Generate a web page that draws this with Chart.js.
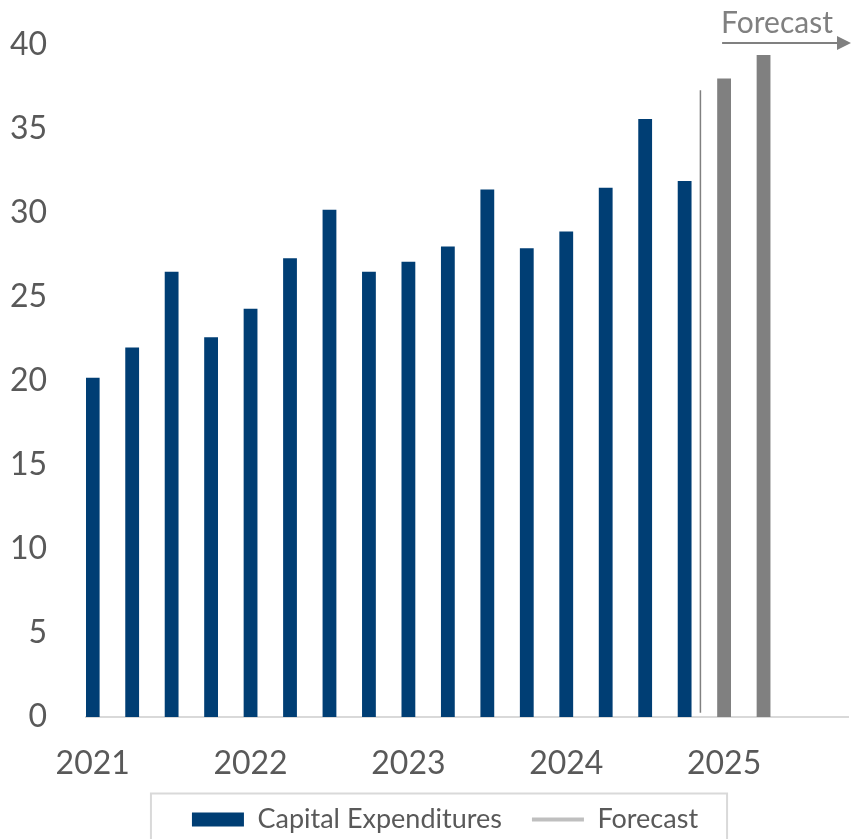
<!DOCTYPE html>
<html>
<head>
<meta charset="utf-8">
<title>Capital Expenditures</title>
<script src="https://cdn.jsdelivr.net/npm/chart.js@4.4.0/dist/chart.umd.min.js"></script>
<style>
  html, body { margin: 0; padding: 0; background: #fff; }
  #wrap { width: 855px; height: 839px; }
</style>
</head>
<body>
<div id="wrap"><canvas id="capexChart"></canvas></div>
<script>
// Quarterly capital expenditures, last two quarters are forecasts
const quarters = [
  '2021 Q1', '2021 Q2', '2021 Q3', '2021 Q4',
  '2022 Q1', '2022 Q2', '2022 Q3', '2022 Q4',
  '2023 Q1', '2023 Q2', '2023 Q3', '2023 Q4',
  '2024 Q1', '2024 Q2', '2024 Q3', '2024 Q4',
  '2025 Q1', '2025 Q2'
];
const capex = [
  20.2, 22.0, 26.5, 22.6,
  24.3, 27.3, 30.2, 26.5,
  27.1, 28.0, 31.4, 27.9,
  28.9, 31.5, 35.6, 31.9,
  38.0, 39.4
];
const firstForecast = 16;

// year labels sit under the first quarter of each year
const yearLabels = ['2021', '2022', '2023', '2024', '2025'];
const yearTickIndex = [0, 4, 8, 12, 16];

// thin divider between actuals and forecast
const dividerX = [15.4, 15.4];
const dividerY = [0.25, 37.3];

const NAVY = '#003e74';
const GREY_BAR = '#808080';
const TEXT = '#595959';
const FONT = 'Lato, "Open Sans", sans-serif';
const PLOT_BOTTOM = 717;

Chart.defaults.font.family = FONT;
Chart.defaults.color = TEXT;

const forecastArrow = {
  id: 'forecastArrow',
  afterDraw(chart) {
    const ctx = chart.ctx;
    const x0 = chart.scales.x.getPixelForValue(firstForecast) - 2;
    const x1 = chart.chartArea.right + 3;
    const y = 43;
    ctx.save();
    ctx.strokeStyle = '#808080';
    ctx.fillStyle = '#808080';
    ctx.lineWidth = 2;
    ctx.beginPath();
    ctx.moveTo(x0, y);
    ctx.lineTo(x1 - 12, y);
    ctx.stroke();
    ctx.beginPath();
    ctx.moveTo(x1 - 14, y - 7);
    ctx.lineTo(x1, y);
    ctx.lineTo(x1 - 14, y + 7);
    ctx.closePath();
    ctx.fill();
    ctx.font = '30px ' + FONT;
    ctx.textAlign = 'left';
    ctx.textBaseline = 'alphabetic';
    ctx.fillText('Forecast', x0 - 1, 33);
    ctx.restore();
  }
};

// give the year labels room, nudge the legend and frame it with a light border
const legendFrame = {
  id: 'legendFrame',
  afterLayout(chart) {
    chart.scales.x.bottom += 14;
    chart.legend.left += 21;
    chart.legend.right += 21;
    chart.legend.top += 4;
    chart.legend.bottom += 4;
  },
  afterDraw(chart) {
    const boxes = chart.legend.legendHitBoxes;
    if (!boxes || !boxes.length) return;
    const first = boxes[0];
    const last = boxes[boxes.length - 1];
    const mid = first.top + first.height / 2;
    const ctx = chart.ctx;
    ctx.save();
    ctx.strokeStyle = '#d9d9d9';
    ctx.lineWidth = 2;
    ctx.strokeRect(first.left - 41, mid - 26, last.left + last.width - first.left + 70, 80);
    ctx.restore();
  }
};

new Chart(document.getElementById('capexChart'), {
  data: {
    datasets: [
      {
        type: 'bar',
        label: 'Capital Expenditures',
        data: capex.map((v, i) => ({ x: i, y: v })),
        backgroundColor: capex.map((v, i) => (i >= firstForecast ? GREY_BAR : NAVY)),
        barPercentage: 0.35,
        categoryPercentage: 1,
        order: 2
      },
      {
        type: 'line',
        label: 'Forecast',
        data: dividerX.map((x, i) => ({ x: x, y: dividerY[i] })),
        borderColor: '#808080',
        borderWidth: 1.5,
        pointRadius: 0,
        order: 1
      }
    ]
  },
  options: {
    responsive: true,
    maintainAspectRatio: false,
    animation: false,
    layout: {
      padding: { top: 45, right: 7, left: 0, bottom: 0 }
    },
    scales: {
      x: {
        type: 'linear',
        offset: false,
        min: -0.17,
        max: 19.14,
        grid: { display: false },
        border: { color: '#d9d9d9', width: 2 },
        afterBuildTicks(axis) {
          axis.ticks = yearTickIndex.map((v) => ({ value: v }));
        },
        afterFit(scale) {
          scale.height = scale.chart.height - scale.chart.legend.height - PLOT_BOTTOM;
        },
        ticks: {
          autoSkip: false,
          maxRotation: 0,
          padding: 23,
          font: { size: 32, lineHeight: 1 },
          color: TEXT,
          callback(value) {
            return yearLabels[yearTickIndex.indexOf(value)];
          }
        }
      },
      y: {
        min: 0,
        max: 40,
        grid: { display: false },
        border: { display: false },
        afterFit(scale) {
          scale.width = 86;
          scale.paddingTop = 0;
          scale.paddingBottom = 0;
        },
        ticks: {
          stepSize: 5,
          padding: 31,
          font: { size: 32 },
          color: TEXT
        }
      }
    },
    plugins: {
      tooltip: { enabled: false },
      legend: {
        position: 'bottom',
        labels: {
          usePointStyle: true,
          pointStyleWidth: 52,
          boxHeight: 14,
          padding: 30,
          font: { size: 27 },
          color: TEXT,
          generateLabels(chart) {
            const ds = chart.data.datasets;
            return [
              { text: ds[0].label, fillStyle: NAVY, strokeStyle: NAVY, lineWidth: 0, pointStyle: 'rect', datasetIndex: 0, fontColor: TEXT },
              { text: ds[1].label, fillStyle: 'rgba(0,0,0,0)', strokeStyle: '#bfbfbf', lineWidth: 4, pointStyle: 'line', datasetIndex: 1, fontColor: TEXT }
            ];
          }
        }
      }
    }
  },
  plugins: [forecastArrow, legendFrame]
});
</script>
</body>
</html>
